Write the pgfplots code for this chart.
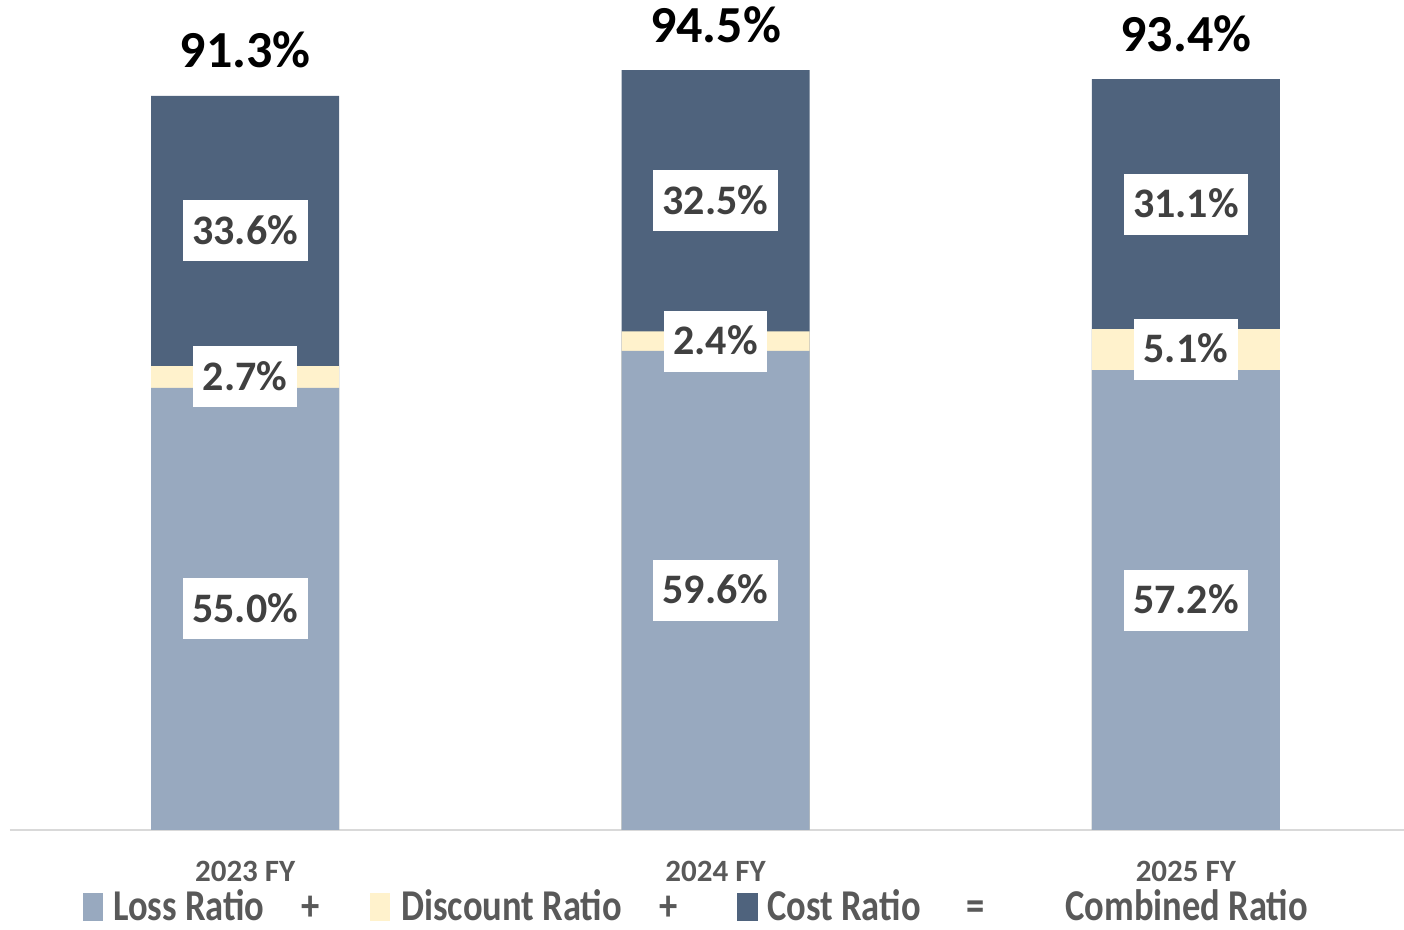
\documentclass[border=0pt]{standalone}
\usepackage{pgfplots}
\pgfplotsset{compat=1.18}
\usepackage{graphicx}
\usepackage{fontspec}
\setmainfont{Carlito}
\definecolor{lossc}{RGB}{152,169,191}
\definecolor{discc}{RGB}{255,242,204}
\definecolor{costc}{RGB}{79,99,125}
\definecolor{labc}{RGB}{64,64,64}
\definecolor{tickc}{RGB}{89,89,89}
\definecolor{axc}{RGB}{217,217,217}
\newcommand{\legtext}[1]{{\fontsize{22}{22}\selectfont\bfseries\color{tickc}\scalebox{0.83}[1]{#1}}}
\begin{document}
\begin{tikzpicture}
\useasboundingbox (-5pt,-50pt) rectangle (697pt,415pt);
\begin{axis}[scale only axis, width=697pt, height=415pt,
  xmin=-0.5, xmax=2.4638, ymin=0, ymax=103.23,
  axis x line*=bottom, axis y line=none,
  axis line style={axc, line width=0.75pt},
  xtick={0,1,2}, xticklabels={2023 FY,2024 FY,2025 FY},
  major tick length=0pt,
  xticklabel style={font=\fontsize{15.5}{15.5}\selectfont\bfseries, text=tickc, anchor=base, yshift=-26pt},
  clip=false]
% bars drawn as overlays: cumulative totals
\addplot[ybar, bar width=94pt, bar shift=0pt, fill=costc, draw=none] coordinates {(0,91.3) (1,94.5) (2,93.4)};
\addplot[ybar, bar width=94pt, bar shift=0pt, fill=discc, draw=none] coordinates {(0,57.7) (1,62.0) (2,62.3)};
\addplot[ybar, bar width=94pt, bar shift=0pt, fill=lossc, draw=none] coordinates {(0,55.0) (1,59.6) (2,57.2)};
% segment labels
\addplot[draw=none, mark=none, nodes near coords, point meta=explicit symbolic,
  every node near coord/.style={fill=white, text=labc, font=\fontsize{21}{21}\selectfont\bfseries, anchor=center, inner xsep=4.75pt, inner ysep=0pt, text height=13.4pt, text depth=0pt, minimum height=30.5pt}]
  coordinates {(0,27.5) [55.0\%] (1,29.8) [59.6\%] (2,28.6) [57.2\%]
               (0,56.35) [2.7\%] (1,60.8) [2.4\%] (2,59.75) [5.1\%]
               (0,74.5) [33.6\%] (1,78.25) [32.5\%] (2,77.85) [31.1\%]};
% totals
\addplot[draw=none, mark=none, nodes near coords, point meta=explicit symbolic,
  every node near coord/.style={text=black, font=\fontsize{26}{26}\selectfont\bfseries, anchor=base, yshift=14pt, inner sep=0pt}]
  coordinates {(0,91.3) [91.3\%] (1,94.5) [94.5\%] (2,93.4) [93.4\%]};
\end{axis}
% legend
\tikzset{leg/.style={inner sep=0pt, text depth=0pt}}
\fill[lossc] (36.5pt,-45.5pt) rectangle (46.5pt,-31.5pt);
\node[leg, anchor=base west] at (51.5pt,-45.5pt) {\legtext{Loss Ratio}};
\node[leg, anchor=base] at (150.5pt,-45.5pt) {\legtext{+}};
\fill[discc] (180pt,-45.5pt) rectangle (190pt,-31.5pt);
\node[leg, anchor=base west] at (195.5pt,-45.5pt) {\legtext{Discount Ratio}};
\node[leg, anchor=base] at (329.5pt,-45.5pt) {\legtext{+}};
\fill[costc] (363.5pt,-45.5pt) rectangle (374pt,-31.5pt);
\node[leg, anchor=base west] at (378.5pt,-45.5pt) {\legtext{Cost Ratio}};
\node[leg, anchor=base] at (483pt,-45.5pt) {\legtext{=}};
\node[leg, anchor=base west] at (527.5pt,-45.5pt) {\legtext{Combined Ratio}};
\end{tikzpicture}
\end{document}
